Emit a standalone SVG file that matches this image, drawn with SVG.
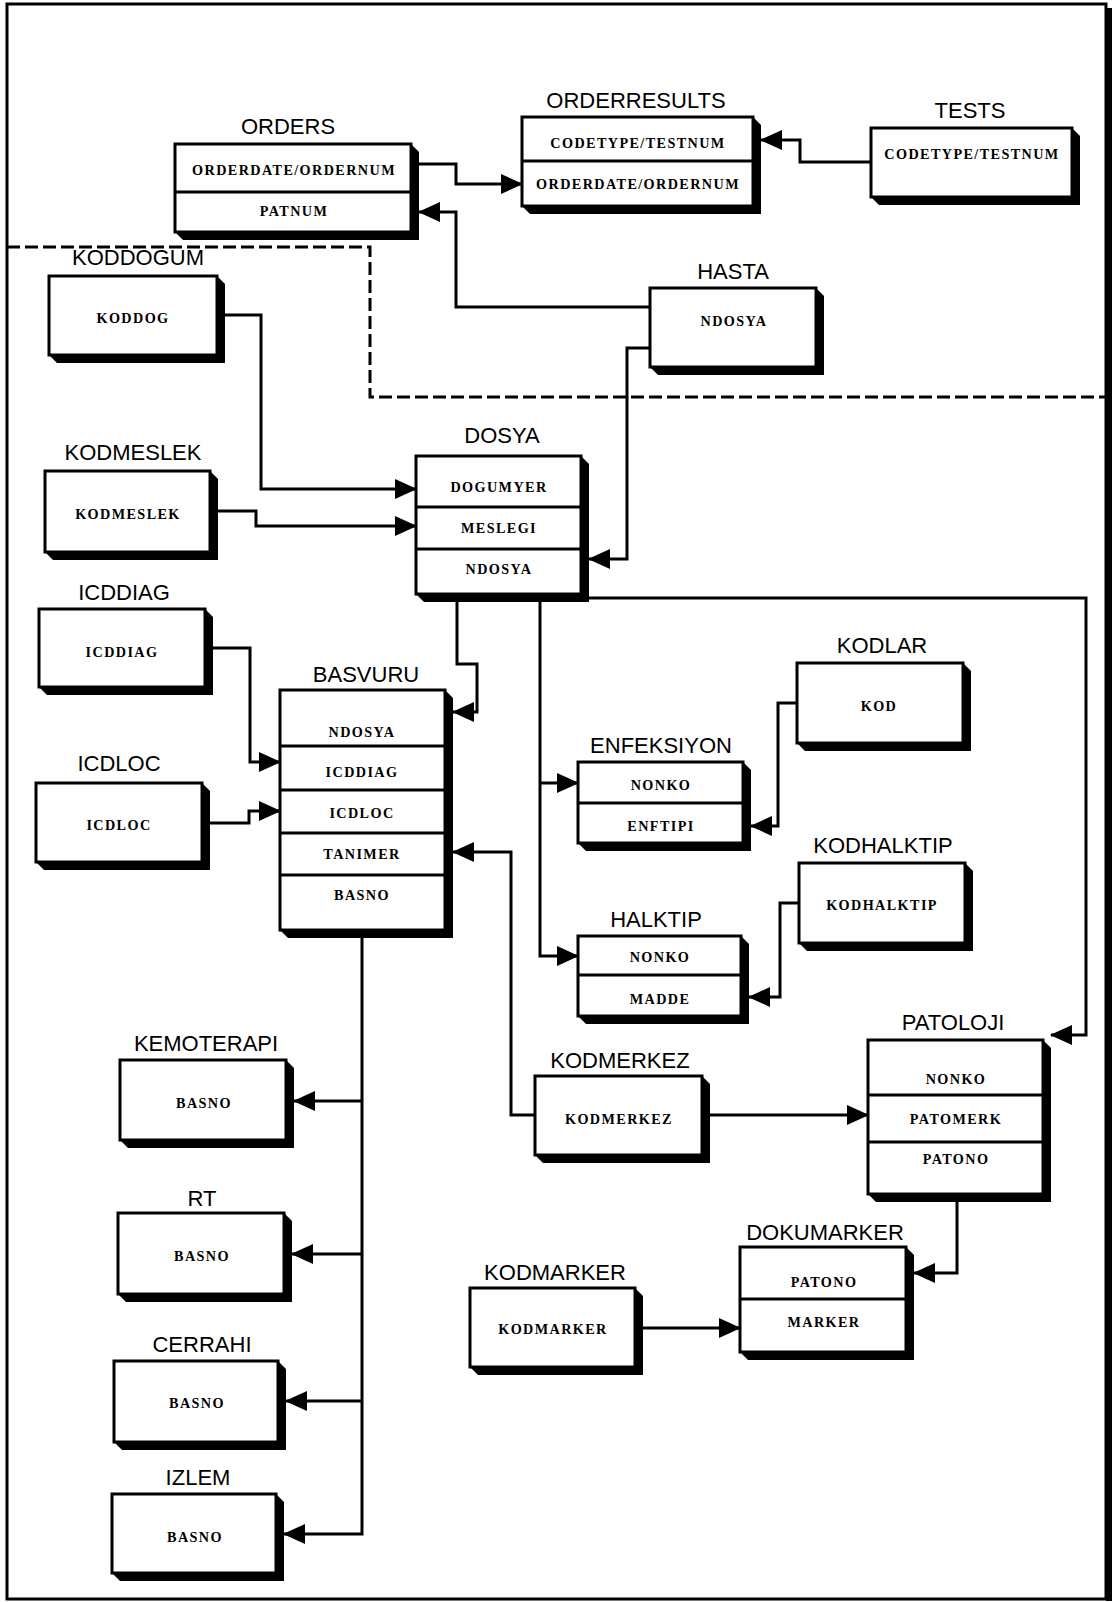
<svg xmlns="http://www.w3.org/2000/svg" width="1115" height="1602" viewBox="0 0 1115 1602">
  <style>
    .bg { fill: #ffffff; }
    .frame { fill: none; stroke: #000; stroke-width: 3; }
    .sh { fill: #000; }
    .bx { fill: #fff; stroke: #000; stroke-width: 3; }
    .dv { stroke: #000; stroke-width: 3; }
    .ttl { font-family: "Liberation Sans", Arial, sans-serif; font-size: 22px; fill: #000; text-anchor: middle; }
    .fld { font-family: "Liberation Serif", "Times New Roman", serif; font-size: 14.2px; font-weight: bold; fill: #000; text-anchor: middle; letter-spacing: 1.4px; }
    .cn { fill: none; stroke: #000; stroke-width: 3; }
    .cn.a { marker-end: url(#ah); }
    .dash { fill: none; stroke: #000; stroke-width: 3; stroke-dasharray: 13 5; }
  </style>
  <defs>
    <marker id="ah" markerUnits="userSpaceOnUse" markerWidth="22" markerHeight="20" refX="21" refY="10" orient="auto">
      <path d="M0,0 L22,10 L0,20 Z" fill="#000"/>
    </marker>
  </defs>

  <rect class="bg" x="0" y="0" width="1115" height="1602"/>

  <!-- page frame -->
  <g id="frame">
    <path class="frame" d="M7,4 H1106 V1599 H7 Z"/>
    <line x1="1109" y1="8" x2="1109" y2="1601" stroke="#000" stroke-width="6"/>
    <path class="dash" d="M7,247 H370 V397 H1106"/>
  </g>

  <!-- connectors -->
  <g id="connectors">
    <path class="cn a" d="M419,164 H456 V184 H522"/>
    <path class="cn a" d="M871,162 H800 V140 H761"/>
    <path class="cn a" d="M650,307 H456 V212 H419"/>
    <path class="cn a" d="M650,348 H627 V559 H589"/>
    <path class="cn a" d="M225,315 H261 V489 H416"/>
    <path class="cn a" d="M218,511 H256 V526 H416"/>
    <path class="cn a" d="M213,648 H250 V762 H280"/>
    <path class="cn a" d="M210,823 H249 V811 H280"/>
    <path class="cn a" d="M457,602 V664 H477 V712 H453"/>
    <path class="cn a" d="M540,602 V956 H578"/>
    <path class="cn a" d="M540,783 H578"/>
    <path class="cn a" d="M589,598 H1086 V1035 H1051"/>
    <path class="cn a" d="M797,703 H778 V826 H751"/>
    <path class="cn a" d="M799,903 H780 V997 H749"/>
    <path class="cn a" d="M535,1115 H511 V852 H453"/>
    <path class="cn a" d="M710,1115 H868"/>
    <path class="cn a" d="M362,938 V1534 H284"/>
    <path class="cn a" d="M362,1101 H294"/>
    <path class="cn a" d="M362,1254 H292"/>
    <path class="cn a" d="M362,1401 H286"/>
    <path class="cn a" d="M957,1202 V1273 H914"/>
    <path class="cn a" d="M643,1328 H740"/>
  </g>

  <!-- tables -->
  <g id="orders">
    <text class="ttl" x="288" y="134">ORDERS</text>
    <polygon class="sh" points="411,144 419,152 419,240 183,240 175,232"/>
    <rect class="bx" x="175" y="144" width="236" height="88"/>
    <line class="dv" x1="175" y1="192" x2="411" y2="192"/>
    <text class="fld" x="294" y="175">ORDERDATE/ORDERNUM</text>
    <text class="fld" x="294" y="216">PATNUM</text>
  </g>

  <g id="orderresults">
    <text class="ttl" x="636" y="108">ORDERRESULTS</text>
    <polygon class="sh" points="753,117 761,125 761,214 530,214 522,206"/>
    <rect class="bx" x="522" y="117" width="231" height="89"/>
    <line class="dv" x1="522" y1="161" x2="753" y2="161"/>
    <text class="fld" x="638" y="148">CODETYPE/TESTNUM</text>
    <text class="fld" x="638" y="189">ORDERDATE/ORDERNUM</text>
  </g>

  <g id="tests">
    <text class="ttl" x="970" y="118">TESTS</text>
    <polygon class="sh" points="1072,128 1080,136 1080,205 879,205 871,197"/>
    <rect class="bx" x="871" y="128" width="201" height="69"/>
    <text class="fld" x="972" y="159">CODETYPE/TESTNUM</text>
  </g>

  <g id="hasta">
    <text class="ttl" x="733" y="279">HASTA</text>
    <polygon class="sh" points="816,288 824,296 824,375 658,375 650,367"/>
    <rect class="bx" x="650" y="288" width="166" height="79"/>
    <text class="fld" x="734" y="326">NDOSYA</text>
  </g>

  <g id="koddogum">
    <text class="ttl" x="138" y="265">KODDOGUM</text>
    <polygon class="sh" points="217,276 225,284 225,363 57,363 49,355"/>
    <rect class="bx" x="49" y="276" width="168" height="79"/>
    <text class="fld" x="133" y="323">KODDOG</text>
  </g>

  <g id="kodmeslek">
    <text class="ttl" x="133" y="460">KODMESLEK</text>
    <polygon class="sh" points="210,471 218,479 218,560 53,560 45,552"/>
    <rect class="bx" x="45" y="471" width="165" height="81"/>
    <text class="fld" x="128" y="519">KODMESLEK</text>
  </g>

  <g id="dosya">
    <text class="ttl" x="502" y="443">DOSYA</text>
    <polygon class="sh" points="581,456 589,464 589,602 424,602 416,594"/>
    <rect class="bx" x="416" y="456" width="165" height="138"/>
    <line class="dv" x1="416" y1="507" x2="581" y2="507"/>
    <line class="dv" x1="416" y1="549" x2="581" y2="549"/>
    <text class="fld" x="499" y="492">DOGUMYER</text>
    <text class="fld" x="499" y="533">MESLEGI</text>
    <text class="fld" x="499" y="574">NDOSYA</text>
  </g>

  <g id="icddiag">
    <text class="ttl" x="124" y="600">ICDDIAG</text>
    <polygon class="sh" points="205,609 213,617 213,695 47,695 39,687"/>
    <rect class="bx" x="39" y="609" width="166" height="78"/>
    <text class="fld" x="122" y="657">ICDDIAG</text>
  </g>

  <g id="icdloc">
    <text class="ttl" x="119" y="771">ICDLOC</text>
    <polygon class="sh" points="202,783 210,791 210,870 44,870 36,862"/>
    <rect class="bx" x="36" y="783" width="166" height="79"/>
    <text class="fld" x="119" y="830">ICDLOC</text>
  </g>

  <g id="basvuru">
    <text class="ttl" x="366" y="682">BASVURU</text>
    <polygon class="sh" points="445,690 453,698 453,938 288,938 280,930"/>
    <rect class="bx" x="280" y="690" width="165" height="240"/>
    <line class="dv" x1="280" y1="746" x2="445" y2="746"/>
    <line class="dv" x1="280" y1="790" x2="445" y2="790"/>
    <line class="dv" x1="280" y1="833" x2="445" y2="833"/>
    <line class="dv" x1="280" y1="875" x2="445" y2="875"/>
    <text class="fld" x="362" y="737">NDOSYA</text>
    <text class="fld" x="362" y="777">ICDDIAG</text>
    <text class="fld" x="362" y="818">ICDLOC</text>
    <text class="fld" x="362" y="859">TANIMER</text>
    <text class="fld" x="362" y="900">BASNO</text>
  </g>

  <g id="enfeksiyon">
    <text class="ttl" x="661" y="753">ENFEKSIYON</text>
    <polygon class="sh" points="743,762 751,770 751,851 586,851 578,843"/>
    <rect class="bx" x="578" y="762" width="165" height="81"/>
    <line class="dv" x1="578" y1="803" x2="743" y2="803"/>
    <text class="fld" x="661" y="790">NONKO</text>
    <text class="fld" x="661" y="831">ENFTIPI</text>
  </g>

  <g id="kodlar">
    <text class="ttl" x="882" y="653">KODLAR</text>
    <polygon class="sh" points="963,663 971,671 971,751 805,751 797,743"/>
    <rect class="bx" x="797" y="663" width="166" height="80"/>
    <text class="fld" x="879" y="711">KOD</text>
  </g>

  <g id="kodhalktip">
    <text class="ttl" x="883" y="853">KODHALKTIP</text>
    <polygon class="sh" points="965,863 973,871 973,951 807,951 799,943"/>
    <rect class="bx" x="799" y="863" width="166" height="80"/>
    <text class="fld" x="882" y="910">KODHALKTIP</text>
  </g>

  <g id="halktip">
    <text class="ttl" x="656" y="927">HALKTIP</text>
    <polygon class="sh" points="741,936 749,944 749,1024 586,1024 578,1016"/>
    <rect class="bx" x="578" y="936" width="163" height="80"/>
    <line class="dv" x1="578" y1="975" x2="741" y2="975"/>
    <text class="fld" x="660" y="962">NONKO</text>
    <text class="fld" x="660" y="1004">MADDE</text>
  </g>

  <g id="kemoterapi">
    <text class="ttl" x="206" y="1051">KEMOTERAPI</text>
    <polygon class="sh" points="286,1060 294,1068 294,1148 128,1148 120,1140"/>
    <rect class="bx" x="120" y="1060" width="166" height="80"/>
    <text class="fld" x="204" y="1108">BASNO</text>
  </g>

  <g id="rt">
    <text class="ttl" x="202" y="1206">RT</text>
    <polygon class="sh" points="284,1213 292,1221 292,1302 126,1302 118,1294"/>
    <rect class="bx" x="118" y="1213" width="166" height="81"/>
    <text class="fld" x="202" y="1261">BASNO</text>
  </g>

  <g id="cerrahi">
    <text class="ttl" x="202" y="1352">CERRAHI</text>
    <polygon class="sh" points="278,1361 286,1369 286,1450 122,1450 114,1442"/>
    <rect class="bx" x="114" y="1361" width="164" height="81"/>
    <text class="fld" x="197" y="1408">BASNO</text>
  </g>

  <g id="izlem">
    <text class="ttl" x="198" y="1485">IZLEM</text>
    <polygon class="sh" points="276,1494 284,1502 284,1581 120,1581 112,1573"/>
    <rect class="bx" x="112" y="1494" width="164" height="79"/>
    <text class="fld" x="195" y="1542">BASNO</text>
  </g>

  <g id="kodmerkez">
    <text class="ttl" x="620" y="1068">KODMERKEZ</text>
    <polygon class="sh" points="702,1076 710,1084 710,1163 543,1163 535,1155"/>
    <rect class="bx" x="535" y="1076" width="167" height="79"/>
    <text class="fld" x="619" y="1124">KODMERKEZ</text>
  </g>

  <g id="patoloji">
    <text class="ttl" x="953" y="1030">PATOLOJI</text>
    <polygon class="sh" points="1043,1040 1051,1048 1051,1202 876,1202 868,1194"/>
    <rect class="bx" x="868" y="1040" width="175" height="154"/>
    <line class="dv" x1="868" y1="1095" x2="1043" y2="1095"/>
    <line class="dv" x1="868" y1="1142" x2="1043" y2="1142"/>
    <text class="fld" x="956" y="1084">NONKO</text>
    <text class="fld" x="956" y="1124">PATOMERK</text>
    <text class="fld" x="956" y="1164">PATONO</text>
  </g>

  <g id="dokumarker">
    <text class="ttl" x="825" y="1240">DOKUMARKER</text>
    <polygon class="sh" points="906,1247 914,1255 914,1360 748,1360 740,1352"/>
    <rect class="bx" x="740" y="1247" width="166" height="105"/>
    <line class="dv" x1="740" y1="1299" x2="906" y2="1299"/>
    <text class="fld" x="824" y="1287">PATONO</text>
    <text class="fld" x="824" y="1327">MARKER</text>
  </g>

  <g id="kodmarker">
    <text class="ttl" x="555" y="1280">KODMARKER</text>
    <polygon class="sh" points="635,1288 643,1296 643,1375 478,1375 470,1367"/>
    <rect class="bx" x="470" y="1288" width="165" height="79"/>
    <text class="fld" x="553" y="1334">KODMARKER</text>
  </g>
</svg>
